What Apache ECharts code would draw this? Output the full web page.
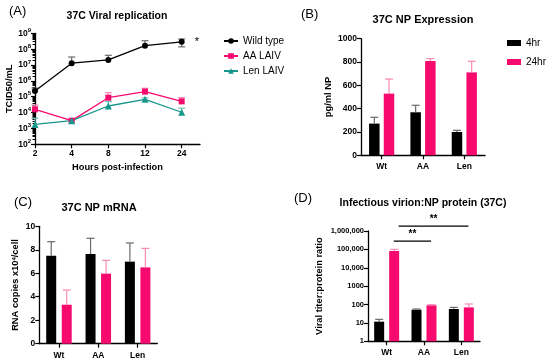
<!DOCTYPE html>
<html>
<head>
<meta charset="utf-8">
<script src="https://cdn.jsdelivr.net/npm/echarts@6/dist/echarts.min.js"></script>
<style>html,body{margin:0;padding:0;background:#fff}#c{width:550px;height:361px}</style>
</head>
<body>
<div id="c"></div>
<script>
// ---------- data ----------
const hours = ['2', '4', '8', '12', '24'];
const wtMean = [2.3e5, 1.3e7, 2.1e7, 1.65e8, 2.9e8];
const wtUpper = [3.5e5, 3.2e7, 4.1e7, 3.4e8, 4.4e8];
const wtLower = [2.3e5, 1.3e7, 2.1e7, 1.65e8, 1.4e8];
const aaMean = [1.6e4, 3.1e3, 8.7e4, 2.1e5, 5.1e4];
const aaUpper = [3.0e4, 3.5e3, 1.8e5, 3.4e5, 8.7e4];
const lenMean = [1.8e3, 3.1e3, 2.6e4, 6.9e4, 1.05e4];
const lenUpper = [4.4e3, 3.4e3, 4.9e4, 8.5e4, 1.9e4];

const groups = ['Wt', 'AA', 'Len'];
const npMean4 = [272, 369, 200];
const npUp4 = [326, 429, 214];
const npMean24 = [529, 809, 711];
const npUp24 = [654, 829, 806];

const mrnaMean4 = [7.5, 7.64, 6.99];
const mrnaUp4 = [8.69, 8.98, 8.58];
const mrnaMean24 = [3.32, 5.97, 6.5];
const mrnaUp24 = [4.57, 7.1, 8.12];

const ratioMean4 = [11.7, 52, 57];
const ratioUp4 = [15.7, 57, 70];
const ratioMean24 = [81000, 91, 70];
const ratioUp24 = [100000, 98, 107];

const ratioTickLabels = ['1', '10', '100', '1000', '10,000', '100,000', '1,000,000'];
// significance brackets: [from category, y value, to category, label]
const sigBrackets = [[0, 2.8e5, 1, '**'], [0, 1.85e6, 2, '**']];

// ---------- styles ----------
const FONT = 'Liberation Sans';
const PINK = '#F70A6E';
const PINK_ERR = '#F78AB3';
const TEAL = '#17968B';
const TEAL_ERR = '#6FC2B9';
const GRAY_ERR = '#6a6a6a';
const axLine = { show: true, onZero: false, lineStyle: { color: '#000', width: 1.3 } };
const tickStyle = { color: '#000', width: 1.2 };
const lblStyle = (fs) => ({ fontFamily: FONT, fontWeight: 'bold', fontSize: fs, color: '#000' });
const nameStyle = { fontFamily: FONT, fontWeight: 'bold', fontSize: 9.3, color: '#000' };
const panelStyle = { fontFamily: FONT, fontWeight: 'normal', fontSize: 13, color: '#000' };

function errSeries(name, xi, yi, data, color, offset, cap, both) {
  return {
    type: 'custom', name: name, xAxisIndex: xi, yAxisIndex: yi, z: 5, clip: false,
    data: data,
    renderItem: function (params, api) {
      const x = api.value(0), lo = api.value(1), hi = api.value(2), mid = api.value(3);
      const pHi = api.coord([x, hi]);
      const pLo = api.coord([x, lo]);
      const cx = pHi[0] + offset;
      const st = { stroke: color, lineWidth: 1.2 };
      const ch = [
        { type: 'line', shape: { x1: cx, y1: pLo[1], x2: cx, y2: pHi[1] }, style: st },
        { type: 'line', shape: { x1: cx - cap / 2, y1: pHi[1], x2: cx + cap / 2, y2: pHi[1] }, style: st }
      ];
      if (both && lo < mid) {
        ch.push({ type: 'line', shape: { x1: cx - cap / 2, y1: pLo[1], x2: cx + cap / 2, y2: pLo[1] }, style: st });
      }
      return { type: 'group', children: ch };
    }
  };
}

const wtLine = wtMean.map((v, i) => i === wtMean.length - 1
  ? { value: [i, v], label: { show: true, formatter: '*', position: 'right', distance: 10, fontSize: 11, fontFamily: FONT, color: '#000' } }
  : [i, v]);

const option = {
  animation: false,
  backgroundColor: '#fff',
  title: [
    { text: '37C Viral replication', left: 117, top: 11, padding: 0, textAlign: 'center', textStyle: lblStyle(10.5) },
    { text: '37C NP Expression', left: 423, top: 14, padding: 0, textAlign: 'center', textStyle: lblStyle(11) },
    { text: '37C NP mRNA', left: 99, top: 202, padding: 0, textAlign: 'center', textStyle: lblStyle(11) },
    { text: 'Infectious virion:NP protein (37C)', left: 423, top: 198, padding: 0, textAlign: 'center', textStyle: lblStyle(10.5) },
    { text: '(A)', left: 9, top: 5, padding: 0, textStyle: panelStyle },
    { text: '(B)', left: 301, top: 8, padding: 0, textStyle: panelStyle },
    { text: '(C)', left: 14, top: 196, padding: 0, textStyle: panelStyle },
    { text: '(D)', left: 294, top: 192, padding: 0, textStyle: panelStyle }
  ],
  legend: [
    { data: ['Wild type', 'AA LAIV', 'Len LAIV'], orient: 'vertical', left: 223, top: 35, padding: 0, itemWidth: 14, itemHeight: 7, itemGap: 3,
      selectedMode: false, textStyle: { fontFamily: FONT, fontSize: 10, color: '#000', lineHeight: 12 } },
    { data: ['4hr', '24hr'], orient: 'vertical', left: 507, top: 37, padding: 0, itemWidth: 14, itemHeight: 6, itemGap: 7, icon: 'rect',
      selectedMode: false, textStyle: { fontFamily: FONT, fontSize: 10, color: '#000', lineHeight: 12 } }
  ],
  grid: [
    { left: 35, top: 33.3, width: 165, height: 111 },
    { left: 361, top: 38.7, width: 124, height: 116.6 },
    { left: 39.3, top: 226.3, width: 118, height: 117.4 },
    { left: 368, top: 231, width: 112, height: 110.3 }
  ],
  xAxis: [
    { gridIndex: 0, type: 'value', min: 0, max: 4.5, axisLine: axLine, splitLine: { show: false },
      axisTick: { show: true, length: 4, customValues: [0, 1, 2, 3, 4], lineStyle: tickStyle },
      axisLabel: { customValues: [0, 1, 2, 3, 4], formatter: (v) => hours[Math.round(v)], margin: 5, ...lblStyle(8.5) },
      name: 'Hours post-infection', nameLocation: 'middle', nameGap: 19, nameTextStyle: nameStyle },
    { gridIndex: 1, type: 'category', data: groups, axisLine: axLine,
      axisTick: { show: true, alignWithLabel: true, length: 4, lineStyle: tickStyle },
      axisLabel: { margin: 7, ...lblStyle(8.5) } },
    { gridIndex: 2, type: 'category', data: groups, axisLine: axLine,
      axisTick: { show: true, alignWithLabel: true, length: 4, lineStyle: tickStyle },
      axisLabel: { margin: 7, ...lblStyle(8.5) } },
    { gridIndex: 3, type: 'category', data: groups, axisLine: axLine,
      axisTick: { show: true, alignWithLabel: true, length: 4, lineStyle: tickStyle },
      axisLabel: { margin: 7, ...lblStyle(8.5) } }
  ],
  yAxis: [
    { gridIndex: 0, type: 'log', logBase: 10, min: 100, max: 1e9, interval: 1, axisLine: axLine, splitLine: { show: false },
      axisTick: { show: true, length: 4, lineStyle: tickStyle },
      minorTick: { show: true, splitNumber: 9, length: 2.5, lineStyle: { color: '#000', width: 1 } },
      axisLabel: { margin: 4, formatter: (v) => '10{s|' + Math.round(Math.log10(v)) + '}', ...lblStyle(8.5), lineHeight: 12,
        rich: { s: { fontSize: 6, fontWeight: 'bold', fontFamily: FONT, color: '#000', verticalAlign: 'top', lineHeight: 8 } } },
      name: 'TCID50/mL', nameLocation: 'middle', nameGap: 17, nameTextStyle: nameStyle },
    { gridIndex: 1, type: 'value', min: 0, max: 1000, interval: 200, axisLine: axLine, splitLine: { show: false },
      axisTick: { show: true, length: 4, lineStyle: tickStyle }, axisLabel: { margin: 4, formatter: (v) => String(v), ...lblStyle(8.5) },
      name: 'pg/ml NP', nameLocation: 'middle', nameGap: 28, nameTextStyle: nameStyle },
    { gridIndex: 2, type: 'value', min: 0, max: 10, interval: 2, axisLine: axLine, splitLine: { show: false },
      axisTick: { show: true, length: 4, lineStyle: tickStyle }, axisLabel: { margin: 4, ...lblStyle(8.5) },
      name: 'RNA copies x10{s|4}/cell', nameLocation: 'middle', nameGap: 19,
      nameTextStyle: { ...nameStyle, rich: { s: { fontSize: 6, fontWeight: 'bold', fontFamily: FONT, color: '#000', verticalAlign: 'top' } } } },
    { gridIndex: 3, type: 'log', logBase: 10, min: 1, max: 1e6, interval: 1, axisLine: axLine, splitLine: { show: false },
      axisTick: { show: true, length: 4, lineStyle: tickStyle },
      axisLabel: { margin: 4, formatter: (v) => ratioTickLabels[Math.round(Math.log10(v))], ...lblStyle(7.5) },
      name: 'Viral titer:protein ratio', nameLocation: 'middle', nameGap: 44, nameTextStyle: nameStyle }
  ],
  series: [
    // Panel A
    errSeries('errWT', 0, 0, wtMean.map((m, i) => [i, wtLower[i], wtUpper[i], m]), GRAY_ERR, 0, 7, true),
    errSeries('errAA', 0, 0, aaMean.map((m, i) => [i, m, aaUpper[i], m]), PINK_ERR, 0, 7, true),
    errSeries('errLen', 0, 0, lenMean.map((m, i) => [i, m, lenUpper[i], m]), TEAL_ERR, 0, 7, true),
    { type: 'line', name: 'Wild type', xAxisIndex: 0, yAxisIndex: 0, data: wtLine, symbol: 'circle', symbolSize: 6,
      itemStyle: { color: '#000' }, lineStyle: { color: '#000', width: 1.3 }, z: 6 },
    { type: 'line', name: 'AA LAIV', xAxisIndex: 0, yAxisIndex: 0, data: aaMean.map((v, i) => [i, v]), symbol: 'rect', symbolSize: 6,
      itemStyle: { color: PINK }, lineStyle: { color: PINK, width: 1.3 }, z: 6 },
    { type: 'line', name: 'Len LAIV', xAxisIndex: 0, yAxisIndex: 0, data: lenMean.map((v, i) => [i, v]), symbol: 'triangle', symbolSize: 7,
      itemStyle: { color: TEAL }, lineStyle: { color: TEAL, width: 1.3 }, z: 6 },
    // Panel B
    { type: 'bar', name: '4hr', xAxisIndex: 1, yAxisIndex: 1, data: npMean4, barWidth: 10.5, barGap: '40%', itemStyle: { color: '#000' } },
    { type: 'bar', name: '24hr', xAxisIndex: 1, yAxisIndex: 1, data: npMean24, barWidth: 10.5, barGap: '40%', itemStyle: { color: PINK } },
    errSeries('errB4', 1, 1, npMean4.map((m, i) => [i, m, npUp4[i], m]), GRAY_ERR, -7.35, 8, false),
    errSeries('errB24', 1, 1, npMean24.map((m, i) => [i, m, npUp24[i], m]), PINK_ERR, 7.35, 8, false),
    // Panel C
    { type: 'bar', name: '4hr', xAxisIndex: 2, yAxisIndex: 2, data: mrnaMean4, barWidth: 10, barGap: '55%', itemStyle: { color: '#000' } },
    { type: 'bar', name: '24hr', xAxisIndex: 2, yAxisIndex: 2, data: mrnaMean24, barWidth: 10, barGap: '55%', itemStyle: { color: PINK } },
    errSeries('errC4', 2, 2, mrnaMean4.map((m, i) => [i, m, mrnaUp4[i], m]), GRAY_ERR, -7.75, 8, false),
    errSeries('errC24', 2, 2, mrnaMean24.map((m, i) => [i, m, mrnaUp24[i], m]), PINK_ERR, 7.75, 8, false),
    // Panel D
    { type: 'bar', name: '4hr', xAxisIndex: 3, yAxisIndex: 3, data: ratioMean4, barWidth: 10, barGap: '50%', itemStyle: { color: '#000' } },
    { type: 'bar', name: '24hr', xAxisIndex: 3, yAxisIndex: 3, data: ratioMean24, barWidth: 10, barGap: '50%', itemStyle: { color: PINK } },
    errSeries('errD4', 3, 3, ratioMean4.map((m, i) => [i, m, ratioUp4[i], m]), GRAY_ERR, -7.5, 8, false),
    errSeries('errD24', 3, 3, ratioMean24.map((m, i) => [i, m, ratioUp24[i], m]), PINK_ERR, 7.5, 8, false),
    { type: 'custom', name: 'sig', xAxisIndex: 3, yAxisIndex: 3, clip: false, z: 6,
      data: sigBrackets.map(b => [b[0], b[1], b[2]]),
      renderItem: function (params, api) {
        const b = sigBrackets[params.dataIndex];
        const p1 = api.coord([api.value(0), api.value(1)]);
        const p2 = api.coord([api.value(2), api.value(1)]);
        const bw = api.size([1, 0])[0];
        const x1 = p1[0] + bw * (params.dataIndex === 0 ? 0.19 : 0.32);
        const x2 = p2[0] + bw * 0.19;
        return { type: 'group', children: [
          { type: 'line', shape: { x1: x1, y1: p1[1], x2: x2, y2: p1[1] }, style: { stroke: '#000', lineWidth: 1.3 } },
          { type: 'text', x: (x1 + x2) / 2, y: p1[1] - 2, style: { text: b[3], fill: '#000', fontSize: 10, fontFamily: FONT, fontWeight: 'bold', align: 'center', verticalAlign: 'bottom' } }
        ] };
      }
    }
  ]
};

const chart = echarts.init(document.getElementById('c'), null, { renderer: 'canvas' });
chart.setOption(option);
</script>
</body>
</html>
